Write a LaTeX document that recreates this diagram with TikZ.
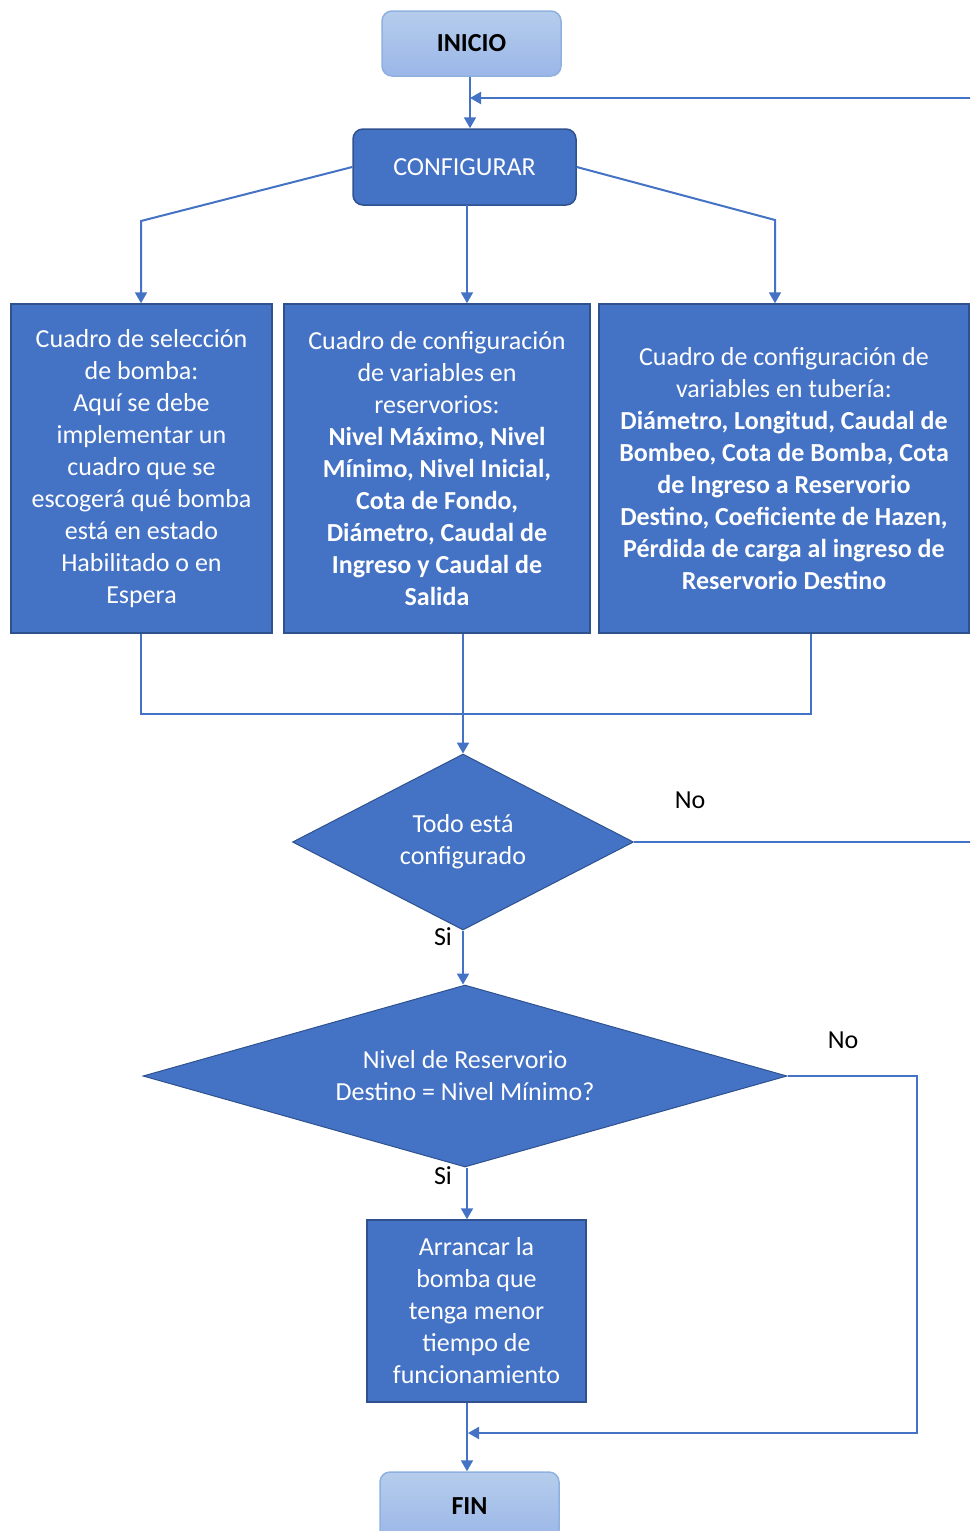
\documentclass[tikz,border=0pt]{standalone}
\usepackage{fontspec}
\setmainfont{Carlito}
\usetikzlibrary{shapes.geometric,arrows.meta}

\definecolor{azul}{HTML}{4472C4}
\definecolor{azulborde}{HTML}{2F528F}
\definecolor{celeste}{HTML}{A3C0E7}
\definecolor{celesteb}{HTML}{8FB1E0}

\begin{document}
\begin{tikzpicture}[x=1pt, y=-1pt,
        every node/.style={font=\fontsize{26}{32}\selectfont},
        extremo/.style={rectangle, rounded corners=10pt, draw=celesteb, line width=1.5pt, top color=celeste!80!white, bottom color=celeste!95!blue, font=\fontsize{26}{32}\selectfont\bfseries, text=black},
        caja/.style={rectangle, draw=azulborde, line width=1.5pt, fill=azul, text=white, align=center, inner sep=0pt},
        decision/.style={diamond, draw=azulborde, line width=1pt, fill=azul, text=white, align=center, inner sep=0pt},
        flecha/.style={draw=azul, line width=2pt, -{Triangle[width=12pt,length=11pt]}},
        linea/.style={draw=azul, line width=2pt}]

        \useasboundingbox (0,0) rectangle (970,1531);
        \clip (0,0) rectangle (970,1531);

        % Nodos
        \node[extremo, minimum width=179pt, minimum height=65pt] (ini) at (471.5,43.5) {INICIO};
        \node[caja, rounded corners=10pt, minimum width=223pt, minimum height=76pt] (conf) at (464.5,167) {CONFIGURAR};
        \node[caja, minimum width=261pt, minimum height=329pt] (b1) at (141.5,468.5) {Cuadro de selección\\de bomba:\\Aquí se debe\\implementar un\\cuadro que se\\escogerá qué bomba\\está en estado\\Habilitado o en\\Espera};
        \node[caja, minimum width=306pt, minimum height=329pt] (b2) at (437,468.5) {Cuadro de configuración\\de variables en\\reservorios:\\\textbf{Nivel Máximo, Nivel}\\\textbf{Mínimo, Nivel Inicial,}\\\textbf{Cota de Fondo,}\\\textbf{Diámetro, Caudal de}\\\textbf{Ingreso y Caudal de}\\\textbf{Salida}};
        \node[caja, minimum width=370pt, minimum height=329pt] (b3) at (784,468.5) {Cuadro de configuración de\\variables en tubería:\\\textbf{Diámetro, Longitud, Caudal de}\\\textbf{Bombeo, Cota de Bomba, Cota}\\\textbf{de Ingreso a Reservorio}\\\textbf{Destino, Coeficiente de Hazen,}\\\textbf{Pérdida de carga al ingreso de}\\\textbf{Reservorio Destino}};
        \node[decision, aspect=1.94, minimum width=341pt, minimum height=176pt] (d1) at (463,842) {Todo está\\configurado};
        \node[decision, aspect=3.54, minimum width=644pt, minimum height=182pt] (d2) at (465,1076) {Nivel de Reservorio\\Destino = Nivel Mínimo?};
        \node[caja, minimum width=219pt, minimum height=182pt] (b4) at (476.5,1311) {Arrancar la\\bomba que\\tenga menor\\tiempo de\\funcionamiento};
        \node[extremo, minimum width=179pt, minimum height=68pt] (fin) at (469.5,1506) {FIN};

        % Etiquetas
        \node (no1) at (690,800) {No};
        \node (si1) at (443,937) {Si};
        \node (no2) at (843,1040) {No};
        \node (si2) at (443,1176) {Si};

        % Puntos de llegada
        \coordinate (r1) at (470,98);
        \coordinate (r2) at (468,1433);

        % Flechas
        \draw[flecha] (ini.south -| r1) -- (conf.north -| r1);
        \draw[flecha] (conf.west) -- (141,221) -- (141,221 |- b1.north);
        \draw[flecha] (467,205) -- (467,221 |- b2.north);
        \draw[flecha] (conf.east) -- (775,220) -- (775,220 |- b3.north);
        \draw[linea] (141,221 |- b1.south) -- (141,714) -- (811,714) -- (811,220 |- b3.south);
        \draw[flecha] (d1.north |- b2.south) -- (d1.north);
        \draw[flecha] (d1.east) -- (990,842) -- (990,98) -- (r1);
        \draw[flecha] (d1.south) -- (d1.south |- d2.north);
        \draw[flecha] (467,0 |- d2.south) -- (467,0 |- b4.north);
        \draw[flecha] (d2.east) -- (917,1076) -- (917,1433) -- (r2);
        \draw[flecha] (467,0 |- b4.south) -- (467,0 |- fin.north);
\end{tikzpicture}
\end{document}
